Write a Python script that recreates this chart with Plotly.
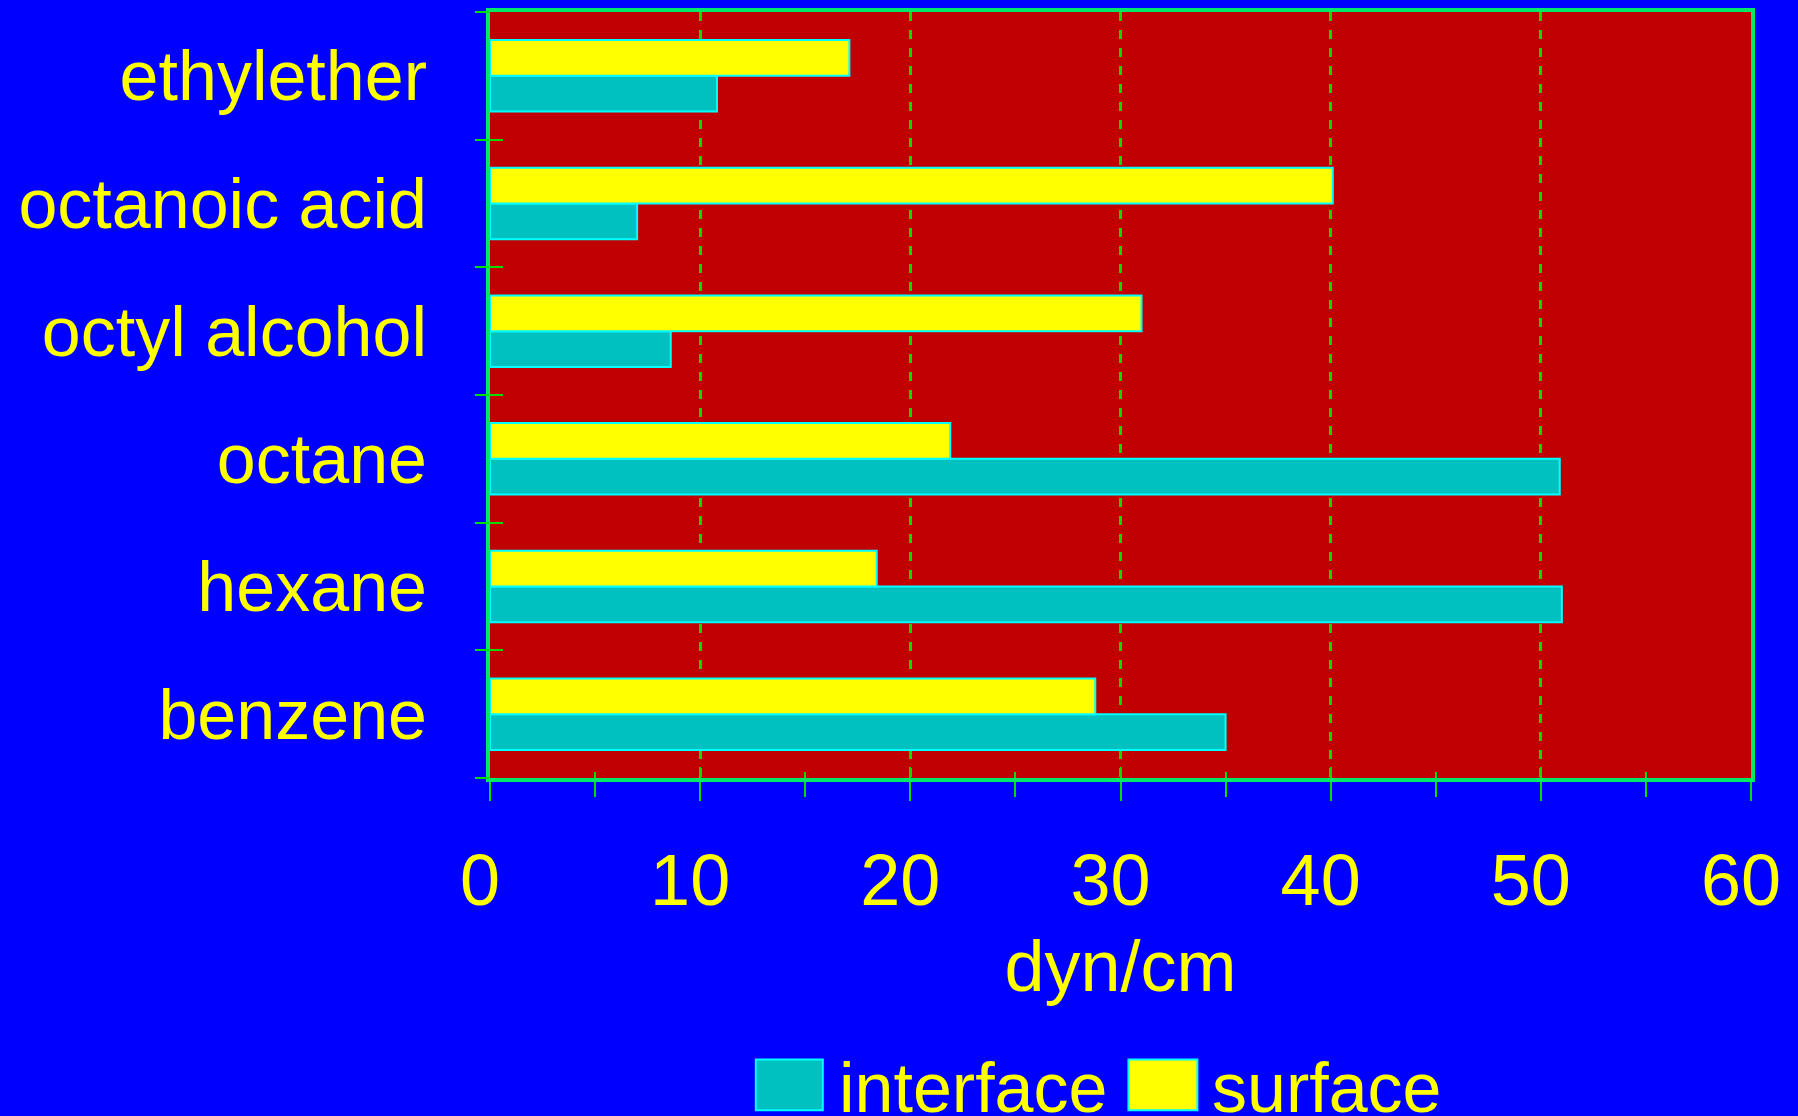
import plotly.graph_objects as go

# Liquids, listed top to bottom as they appear on the chart
liquids = ["ethylether", "octanoic acid", "octyl alcohol", "octane", "hexane", "benzene"]

# Tension values in dyn/cm
interface_tension = [10.8, 7.0, 8.6, 50.9, 51.0, 35.0]
surface_tension = [17.1, 40.1, 31.0, 21.9, 18.4, 28.8]

x_ticks = [0, 10, 20, 30, 40, 50, 60]
legend_names = ["interface", "surface"]

BLUE = "#0000ff"
RED = "#c00000"
YELLOW = "#ffff00"
TEAL = "#00c0c0"
CYAN = "#00ffff"
GREEN = "#00dd00"
FRAME = "#00e868"
FONT = "Liberation Sans, Arial, sans-serif"

fig = go.Figure()
fig.add_trace(go.Bar(
    y=liquids, x=interface_tension, orientation="h", name=legend_names[0],
    marker=dict(color=TEAL, line=dict(color=CYAN, width=2)),
))
fig.add_trace(go.Bar(
    y=liquids, x=surface_tension, orientation="h", name=legend_names[1],
    marker=dict(color=YELLOW, line=dict(color=CYAN, width=2)),
))

# Empty helper traces so the overlay axes (inside/outside tick halves) get drawn
for xa, ya in [("x2", "y"), ("x", "y2"), ("x", "y3")]:
    fig.add_trace(go.Scatter(x=[], y=[], xaxis=xa, yaxis=ya,
                             showlegend=False, hoverinfo="skip"))

n = len(liquids)
boundaries = [i - 0.5 for i in range(n + 1)]

fig.update_layout(
    width=1798, height=1116,
    margin=dict(l=490, r=47, t=8, b=338),
    paper_bgcolor=BLUE, plot_bgcolor=RED,
    barmode="group", bargap=0.44, bargroupgap=0,
    showlegend=False,
    font=dict(family=FONT, color=YELLOW, size=70),
    xaxis=dict(
        range=[0, 60], tickvals=x_ticks, ticks="outside", ticklen=19,
        tickwidth=2, tickcolor=GREEN,
        minor=dict(dtick=5, tick0=0, ticks="outside", ticklen=15,
                   tickwidth=2, tickcolor=GREEN, showgrid=False),
        showgrid=True, gridcolor=GREEN, gridwidth=2.5, griddash="9px,9px",
        zeroline=False,
        showline=True, linecolor=FRAME, linewidth=4, mirror=True,
        tickfont=dict(size=72, color=YELLOW, family=FONT),
        ticklabelstandoff=18, ticklabelshift=-10,
        title=dict(text="dyn/cm", font=dict(size=72, color=YELLOW, family=FONT),
                   standoff=22),
    ),
    xaxis2=dict(
        overlaying="x", anchor="y", side="bottom", range=[0, 60],
        tickvals=x_ticks, ticks="inside", ticklen=11, tickwidth=2, tickcolor=GREEN,
        minor=dict(dtick=5, tick0=0, ticks="inside", ticklen=6,
                   tickwidth=2, tickcolor=GREEN, showgrid=False),
        showticklabels=False, showgrid=False, zeroline=False, showline=False,
    ),
    yaxis=dict(
        categoryorder="array", categoryarray=list(reversed(liquids)),
        range=[-0.5, n - 0.5], ticks="", showgrid=False, zeroline=False,
        showline=True, linecolor=FRAME, linewidth=4, mirror=True,
        tickfont=dict(size=70, color=YELLOW, family=FONT),
        ticklabelstandoff=45,
    ),
    yaxis2=dict(
        overlaying="y", anchor="x", side="left", range=[-0.5, n - 0.5],
        tickvals=boundaries, ticks="outside", ticklen=14, tickwidth=2, tickcolor=GREEN,
        showticklabels=False, showgrid=False, zeroline=False, showline=False,
    ),
    yaxis3=dict(
        overlaying="y", anchor="x", side="left", range=[-0.5, n - 0.5],
        tickvals=boundaries, ticks="inside", ticklen=13, tickwidth=2, tickcolor=GREEN,
        showticklabels=False, showgrid=False, zeroline=False, showline=False,
    ),
)

# Legend drawn below the axis title with large swatches
swatches = [(0.2108, 0.2639, TEAL), (0.5063, 0.5610, YELLOW)]
labels_x = [0.2752, 0.5709]
for (x0, x1, col), lx, name in zip(swatches, labels_x, legend_names):
    fig.add_shape(type="rect", xref="paper", yref="paper",
                  x0=x0, x1=x1, y0=-0.4338, y1=-0.3675,
                  fillcolor=col, line=dict(color=CYAN, width=2))
    fig.add_annotation(xref="paper", yref="paper", x=lx, y=-0.405,
                       xanchor="left", yanchor="middle", showarrow=False,
                       text=name, font=dict(size=70, color=YELLOW, family=FONT))

fig.write_html("out.html")
